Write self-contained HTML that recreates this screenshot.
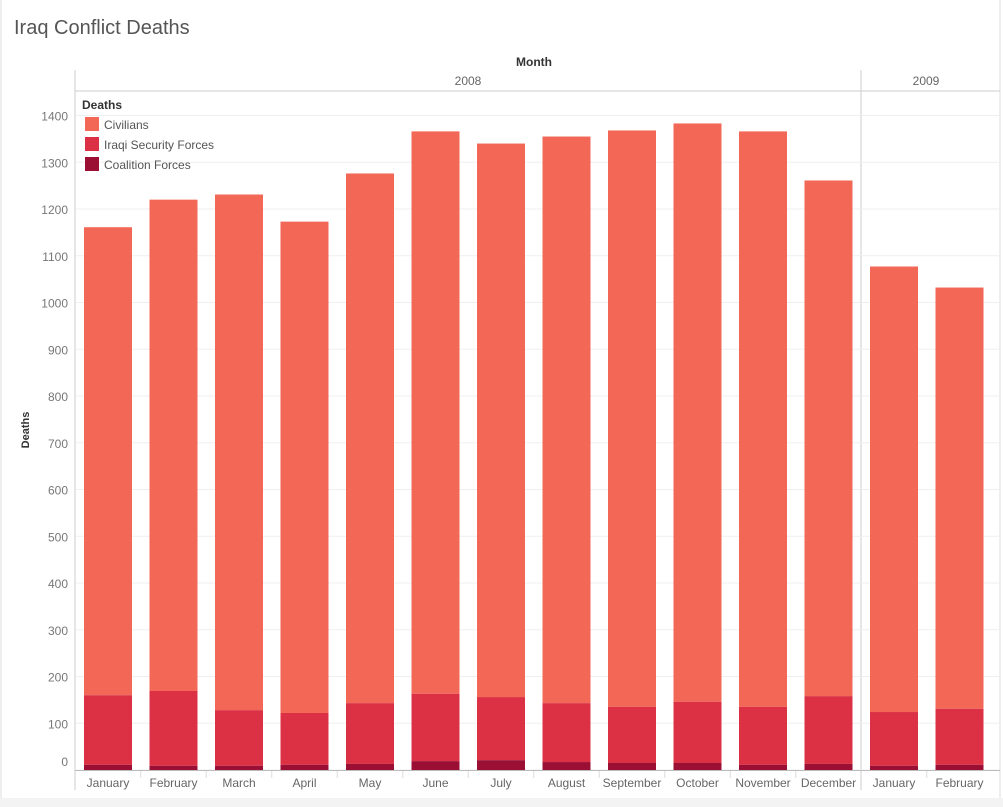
<!DOCTYPE html>
<html><head><meta charset="utf-8"><style>
body{margin:0;background:#fff;font-family:"Liberation Sans",sans-serif;}
#wrap{position:relative;width:1003px;height:807px;overflow:hidden;background:#fff;}
</style></head><body>
<div id="wrap">
<svg id="chart" width="1003" height="807"></svg>
</div>
<script>
const months=["January","February","March","April","May","June","July","August","September","October","November","December","January","February"];
const years=["2008","2008","2008","2008","2008","2008","2008","2008","2008","2008","2008","2008","2009","2009"];
const totals=[1161,1220,1231,1173,1276,1366,1340,1355,1368,1383,1366,1261,1077,1032];
const isfTop=[160,169,128,122,143,163,156,143,135,146,135,158,124,131];
const coalition=[11,9,9,11,13,19,21,17,15,15,11,13,9,11];
const yTicks=[0,100,200,300,400,500,600,700,800,900,1000,1100,1200,1300,1400];
const seriesNames=["Civilians","Iraqi Security Forces","Coalition Forces"];
const colors=["#f26755","#dc3044","#9b0f34"];

const NS="http://www.w3.org/2000/svg";
const svg=document.getElementById('chart');
function mk(t,a,p){const e=document.createElementNS(NS,t);for(const k in a)e.setAttribute(k,a[k]);(p||svg).appendChild(e);return e;}
const y0=770,pxPer=(770-115.5)/1400;
const Y=v=>y0-v*pxPer;
const X=i=>84+i*65.5;
const bw=48;

// page chrome
let e=mk('rect',{x:0,y:798,width:1003,height:9,fill:'#f3f3f3'});

mk('line',{x1:1,y1:0,x2:1,y2:798,stroke:'#ddd'});
mk('line',{x1:1000,y1:0,x2:1000,y2:798,stroke:'#ddd'});
e=mk('text',{x:14,y:34,'font-size':20,fill:'#555','font-family':'Liberation Sans,sans-serif'});e.textContent='Iraq Conflict Deaths';

e=mk('text',{x:534,y:66,'font-size':12,'font-weight':'bold',fill:'#333','text-anchor':'middle'});e.textContent='Month';

// header
mk('line',{x1:75,y1:70,x2:75,y2:790,stroke:'#ccc'});
mk('line',{x1:75,y1:91,x2:1000,y2:91,stroke:'#ccc'});
mk('line',{x1:861,y1:70,x2:861,y2:790,stroke:'#ccc'});
e=mk('text',{x:468,y:85,'font-size':12,fill:'#666','text-anchor':'middle'});e.textContent='2008';

e=mk('text',{x:926,y:85,'font-size':12,fill:'#666','text-anchor':'middle'});e.textContent='2009';

// gridlines and ticks
yTicks.forEach(v=>{
 const g=mk('line',{x1:76,y1:Y(v),x2:1000,y2:Y(v),stroke:'#efefef'});
 
 const t=mk('text',{x:68,y:v===0?Y(v)-4:Y(v)+5,'font-size':12,fill:'#777','text-anchor':'end'});t.textContent=v;
 
});
e=mk('text',{x:29,y:430,'font-size':11,'font-weight':'bold',fill:'#333','text-anchor':'middle',transform:'rotate(-90 29 430)'});e.textContent='Deaths';

// bars
months.forEach((m,i)=>{
 const x=X(i);
 const segs=[[isfTop[i],totals[i]],[coalition[i],isfTop[i]],[0,coalition[i]]];
 segs.forEach((s,k)=>{
  const r=mk('rect',{x:x,y:Y(s[1]),width:bw,height:Y(s[0])-Y(s[1]),fill:colors[k]});
  
  
 });
 const t=mk('text',{x:x+bw/2,y:787,'font-size':12,fill:'#666','text-anchor':'middle'});t.textContent=m;
 
 if(i>0&&i!==12){mk('line',{x1:x-8.75,y1:771,x2:x-8.75,y2:778,stroke:'#ddd'});}
});
mk('line',{x1:75,y1:770.5,x2:1000,y2:770.5,stroke:'#bbb'});
// legend
e=mk('text',{x:82,y:109,'font-size':12,'font-weight':'bold',fill:'#333'});e.textContent='Deaths';

seriesNames.forEach((n,k)=>{
 const r=mk('rect',{x:85,y:117+k*20,width:14,height:14,fill:colors[k]});
 
 const t=mk('text',{x:104,y:129+k*20,'font-size':12,fill:'#555'});t.textContent=n;
 
});
</script>
</body></html>
